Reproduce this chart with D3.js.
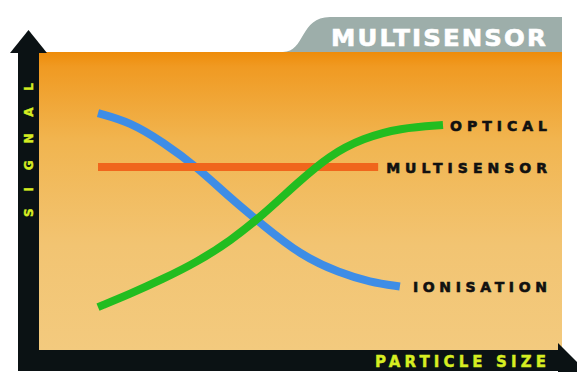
<!DOCTYPE html>
<html>
<head>
<meta charset="utf-8">
<script src="https://cdn.jsdelivr.net/npm/d3@7"></script>
<style>
  html, body { margin: 0; padding: 0; background: #fff; }
  svg { display: block; }
  text { font-family: "DejaVu Sans", sans-serif; font-weight: bold; }
</style>
</head>
<body>
<div id="chart"></div>
<script>
// Signal vs particle size (arbitrary units 0-10)
var ionSize    = [0, 0.93, 1.88, 2.87, 3.83, 4.78, 5.86, 7.01, 7.88, 8.75];
var ionSignal  = [7.95, 7.65, 6.98, 6.14, 5.10, 4.19, 3.19, 2.58, 2.28, 2.13];

var optSize    = [0, 0.93, 1.88, 2.87, 3.83, 4.78, 5.77, 6.72, 7.68, 8.75, 10];
var optSignal  = [1.44, 1.88, 2.38, 2.95, 3.66, 4.53, 5.60, 6.54, 7.11, 7.45, 7.55];

var multiSize   = [0, 8.12];
var multiSignal = [6.14, 6.14];

var seriesNames  = ["OPTICAL", "MULTISENSOR", "IONISATION"];
var seriesColors = ["#22bd20", "#f0661c", "#3e8de6"];

var title = "MULTISENSOR";
var xLabel = "PARTICLE SIZE";
var yLabel = "SIGNAL";

var W = 577, H = 372;
var panel = { left: 39, right: 562, top: 52, bottom: 350 };

var svg = d3.select("#chart").append("svg")
  .attr("width", W)
  .attr("height", H);

// background gradient of the plotting panel
var defs = svg.append("defs");
var grad = defs.append("linearGradient")
  .attr("id", "bg")
  .attr("x1", 0).attr("y1", 0).attr("x2", 0).attr("y2", 1);
grad.append("stop").attr("offset", "0%").attr("stop-color", "#ee8c0a");
grad.append("stop").attr("offset", "5%").attr("stop-color", "#f09a22");
grad.append("stop").attr("offset", "30%").attr("stop-color", "#f1b550");
grad.append("stop").attr("offset", "65%").attr("stop-color", "#f2c472");
grad.append("stop").attr("offset", "100%").attr("stop-color", "#f3ca7e");

// grey title tab
svg.append("path")
  .attr("d", "M283," + panel.top + " C305," + panel.top + " 300,17 330,17 L" + panel.right + ",17 L" + panel.right + "," + panel.top + " Z")
  .attr("fill", "#9daeaa");

svg.append("text")
  .attr("x", 331)
  .attr("y", 46)
  .attr("textLength", 217)
  .attr("lengthAdjust", "spacingAndGlyphs")
  .attr("font-size", 23)
  .attr("letter-spacing", 2)
  .attr("fill", "#ffffff")
  .attr("stroke", "#ffffff")
  .attr("stroke-width", 0.6)
  .text(title);

svg.append("rect")
  .attr("x", panel.left)
  .attr("y", panel.top)
  .attr("width", panel.right - panel.left)
  .attr("height", panel.bottom - panel.top)
  .attr("fill", "url(#bg)");

// scales
var x = d3.scaleLinear().domain([0, 10]).range([98, 443]);
var y = d3.scaleLinear().domain([0, 10]).range([panel.bottom, panel.top]);

function zipPts(xs, ys){
  return xs.map(function(v, i){ return [v, ys[i]]; });
}

var series = [
  { name: seriesNames[0], color: seriesColors[0], pts: zipPts(optSize, optSignal), gap: 7 },
  { name: seriesNames[1], color: seriesColors[1], pts: zipPts(multiSize, multiSignal), gap: 8 },
  { name: seriesNames[2], color: seriesColors[2], pts: zipPts(ionSize, ionSignal), gap: 13 }
];

var line = d3.line()
  .x(function(d){ return x(d[0]); })
  .y(function(d){ return y(d[1]); })
  .curve(d3.curveBasis);

// draw order: blue first, then orange, then green on top
var drawOrder = [series[2], series[1], series[0]];
svg.selectAll("path.series")
  .data(drawOrder)
  .enter().append("path")
  .attr("class", "series")
  .attr("d", function(d){ return line(d.pts); })
  .attr("fill", "none")
  .attr("stroke", function(d){ return d.color; })
  .attr("stroke-width", 8)
  .attr("stroke-linecap", "butt");

var labelRight = 547;
svg.selectAll("text.lbl")
  .data(series)
  .enter().append("text")
  .attr("class", "lbl")
  .attr("x", function(d){ return x(d.pts[d.pts.length - 1][0]) + d.gap; })
  .attr("y", function(d){ return y(d.pts[d.pts.length - 1][1]) + 5.5; })
  .attr("textLength", function(d){ return labelRight - (x(d.pts[d.pts.length - 1][0]) + d.gap); })
  .attr("lengthAdjust", "spacing")
  .attr("font-size", 14)
  .attr("fill", "#111")
  .attr("stroke", "#111")
  .attr("stroke-width", 0.6)
  .text(function(d){ return d.name; });

// axes: black bars with arrow heads
var axisCol = "#0b1214";
svg.append("rect")
  .attr("x", 18).attr("y", 50)
  .attr("width", 21).attr("height", H - 1 - 50)
  .attr("fill", axisCol);
svg.append("polygon")
  .attr("points", "10,53 28.5,30 47,53")
  .attr("fill", axisCol);

svg.append("rect")
  .attr("x", 18).attr("y", panel.bottom)
  .attr("width", 545).attr("height", H - 1 - panel.bottom)
  .attr("fill", axisCol);
svg.append("polygon")
  .attr("points", "558,343 590,375 558,407")
  .attr("fill", axisCol);

// axis titles
svg.append("text")
  .attr("transform", "translate(33,217) rotate(-90)")
  .attr("textLength", 134)
  .attr("lengthAdjust", "spacing")
  .attr("font-size", 12)
  .attr("fill", "#d6ee22")
  .attr("stroke", "#d6ee22")
  .attr("stroke-width", 0.4)
  .text(yLabel);

svg.append("text")
  .attr("x", 375)
  .attr("y", 367)
  .attr("textLength", 171)
  .attr("lengthAdjust", "spacing")
  .attr("font-size", 15)
  .attr("fill", "#d6ee22")
  .attr("stroke", "#d6ee22")
  .attr("stroke-width", 0.4)
  .text(xLabel);
</script>
</body>
</html>
